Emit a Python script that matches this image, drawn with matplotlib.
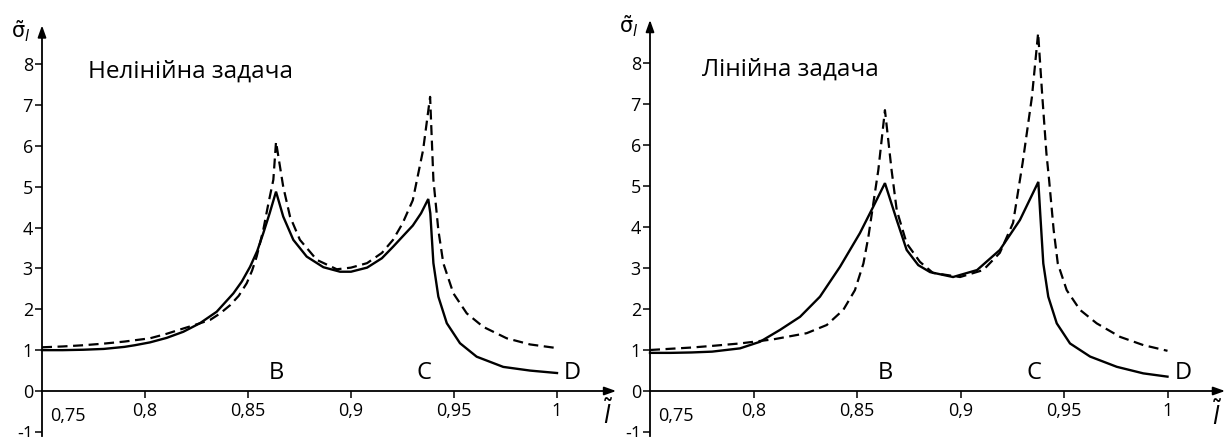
import matplotlib
matplotlib.use("Agg")
import matplotlib.pyplot as plt

plt.rcParams['font.family'] = ['Open Sans', 'DejaVu Sans']
plt.rcParams['mathtext.fontset'] = 'dejavusans'

# ---------------- data ----------------
left_title = "Нелінійна задача"
right_title = "Лінійна задача"
point_labels = ["B", "C", "D"]
point_label_x = [0.8636, 0.9355, 1.0075]
xtick_values = [0.8, 0.85, 0.9, 0.95, 1.0]
xtick_labels = ["0,8", "0,85", "0,9", "0,95", "1"]
first_xtick_label = "0,75"
ytick_values = [-1, 0, 1, 2, 3, 4, 5, 6, 7, 8]

left_solid_x = [0.750, 0.760, 0.770, 0.780, 0.790, 0.795, 0.8024, 0.8105, 0.8186, 0.8267,
                0.8348, 0.8429, 0.8470, 0.8510, 0.8545, 0.8574, 0.8605, 0.8636, 0.8671, 0.8720,
                0.8785, 0.8866, 0.8947, 0.900, 0.9078, 0.915, 0.9204, 0.925, 0.930, 0.9340,
                0.9375, 0.9385, 0.9400, 0.9424, 0.9465, 0.9529, 0.9610, 0.9739, 0.9869, 1.000]
left_solid_y = [1.00, 1.00, 1.01, 1.03, 1.08, 1.12, 1.19, 1.30, 1.45, 1.66,
                1.94, 2.39, 2.68, 3.04, 3.43, 3.86, 4.35, 4.88, 4.27, 3.70,
                3.29, 3.03, 2.92, 2.92, 3.02, 3.25, 3.53, 3.78, 4.05, 4.35,
                4.70, 4.35, 3.13, 2.31, 1.66, 1.17, 0.84, 0.59, 0.50, 0.44]

left_dash_x = [0.750, 0.760, 0.770, 0.780, 0.790, 0.8024, 0.8105, 0.8186, 0.8250, 0.8316,
               0.8365, 0.8413, 0.8455, 0.8494, 0.8520, 0.8542, 0.8574, 0.8599, 0.8623, 0.8636,
               0.8671, 0.8704, 0.8752, 0.8834, 0.8931, 0.900, 0.9078, 0.915, 0.9204, 0.925,
               0.930, 0.935, 0.9384, 0.9400, 0.9424, 0.9448, 0.9497, 0.9562, 0.9642, 0.9756,
               0.9869, 1.000]
left_dash_y = [1.07, 1.09, 1.12, 1.16, 1.21, 1.29, 1.40, 1.53, 1.63, 1.74,
               1.90, 2.10, 2.33, 2.64, 2.95, 3.29, 3.94, 4.59, 5.17, 6.10,
               5.00, 4.27, 3.70, 3.21, 2.98, 3.02, 3.13, 3.38, 3.70, 4.10,
               4.67, 5.90, 7.20, 5.17, 3.94, 3.13, 2.39, 1.90, 1.57, 1.29,
               1.14, 1.05]

right_solid_x = [0.750, 0.760, 0.770, 0.780, 0.7935, 0.8031, 0.8128, 0.8225, 0.8321, 0.8418,
                 0.8514, 0.8579, 0.8635, 0.8692, 0.8740, 0.8796, 0.8853, 0.8964, 0.908, 0.919,
                 0.9287, 0.9376, 0.9385, 0.9400, 0.9424, 0.9465, 0.9529, 0.9626, 0.9755, 0.9883,
                 1.000]
right_solid_y = [0.93, 0.93, 0.94, 0.96, 1.04, 1.20, 1.49, 1.81, 2.30, 3.03,
                 3.85, 4.50, 5.07, 4.17, 3.44, 3.07, 2.90, 2.78, 2.95, 3.44,
                 4.17, 5.10, 4.34, 3.11, 2.30, 1.65, 1.16, 0.84, 0.59, 0.43,
                 0.35]

right_dash_x = [0.750, 0.760, 0.770, 0.780, 0.7935, 0.8096, 0.8257, 0.8354, 0.8434, 0.8490,
                0.8531, 0.8555, 0.8579, 0.8603, 0.8635, 0.8667, 0.8692, 0.8740, 0.8804, 0.8867,
                0.8998, 0.911, 0.919, 0.9254, 0.930, 0.9345, 0.9375, 0.9395, 0.9415, 0.9428,
                0.9450, 0.9470, 0.9513, 0.9577, 0.9658, 0.9771, 0.9883, 1.000]
right_dash_y = [1.00, 1.03, 1.06, 1.10, 1.16, 1.26, 1.41, 1.61, 1.98, 2.46,
                3.11, 3.76, 4.58, 5.39, 6.85, 5.39, 4.41, 3.60, 3.15, 2.88,
                2.78, 2.95, 3.37, 4.10, 5.56, 7.17, 8.73, 7.20, 5.80, 5.15,
                3.93, 3.11, 2.46, 1.98, 1.65, 1.32, 1.12, 0.98]

# ---------------- layout ----------------
FW, FH = 1226, 437
fig = plt.figure(figsize=(FW / 100, FH / 100), dpi=100)

XL = (0.735, 1.035)
YL = (-1.1, 9.3)


def make_axes(x_origin_px, sx, y_origin_px, sy):
    lpx = x_origin_px + (XL[0] - 0.75) * sx
    wpx = (XL[1] - XL[0]) * sx
    tpx = y_origin_px - YL[1] * sy
    hpx = (YL[1] - YL[0]) * sy
    ax = fig.add_axes([lpx / FW, 1 - (tpx + hpx) / FH, wpx / FW, hpx / FH])
    ax.set_xlim(*XL)
    ax.set_ylim(*YL)
    return ax


panels = [
    dict(ax=make_axes(42, 2060, 391, 40.85), title=left_title,
         sx=left_solid_x, sy=left_solid_y, dx=left_dash_x, dy=left_dash_y,
         xtip=1.0287, ytip=8.95, title_x=0.7723, title_y=7.82),
    dict(ax=make_axes(650, 2070, 391, 41.0), title=right_title,
         sx=right_solid_x, sy=right_solid_y, dx=right_dash_x, dy=right_dash_y,
         xtip=1.0278, ytip=9.05, title_x=0.7751, title_y=7.85),
]

for p in panels:
    ax = p['ax']
    ax.patch.set_alpha(0)
    for s in ['top', 'right']:
        ax.spines[s].set_visible(False)
    ax.spines['left'].set_position(('data', 0.75))
    ax.spines['bottom'].set_position(('data', 0))
    ax.spines['left'].set_bounds(-1.1, p['ytip'] - 0.2)
    ax.spines['bottom'].set_bounds(0.75, p['xtip'] - 0.004)
    for s in ['left', 'bottom']:
        ax.spines[s].set_linewidth(1.3)
    # arrow heads
    ax.annotate('', xy=(0.75, p['ytip']), xytext=(0.75, p['ytip'] - 0.3),
                arrowprops=dict(arrowstyle='-|>,head_length=0.7,head_width=0.25',
                                color='black', lw=1.3, shrinkA=0, shrinkB=0),
                annotation_clip=False)
    ax.annotate('', xy=(p['xtip'], 0), xytext=(p['xtip'] - 0.006, 0),
                arrowprops=dict(arrowstyle='-|>,head_length=0.7,head_width=0.25',
                                color='black', lw=1.3, shrinkA=0, shrinkB=0),
                annotation_clip=False)

    ax.set_xticks(xtick_values)
    ax.set_xticklabels(xtick_labels)
    ax.set_yticks(ytick_values)
    ax.set_yticklabels([str(v) for v in ytick_values])
    ax.tick_params(axis='x', direction='out', length=5, width=1.1, pad=3, labelsize=13)
    ax.tick_params(axis='y', direction='out', length=5, width=1.1, pad=1.5, labelsize=13)
    ax.text(0.7626, -0.38, first_xtick_label, ha='center', va='top', fontsize=13)

    ax.plot(p['sx'], p['sy'], color='black', lw=1.7, solid_joinstyle='miter')
    ax.plot(p['dx'], p['dy'], color='black', lw=1.6, linestyle=(0, (4.5, 2.5)))

    ax.text(p['title_x'], p['title_y'], p['title'], fontsize=17.5, ha='left', va='center')
    for lab, lx in zip(point_labels, point_label_x):
        ax.text(lx, 0.45, lab, fontsize=17, ha='center', va='center')

    ax.text(0.7395, p['ytip'] - 0.15, r'$\tilde{\mathrm{σ}}_{\mathit{l}}$', fontsize=15,
            ha='center', va='center')
    ax.text(p['xtip'] - 0.004, -0.6, r'$\tilde{\mathit{l}}$', fontsize=17,
            ha='center', va='center')

fig.savefig('out.png', dpi=100)
